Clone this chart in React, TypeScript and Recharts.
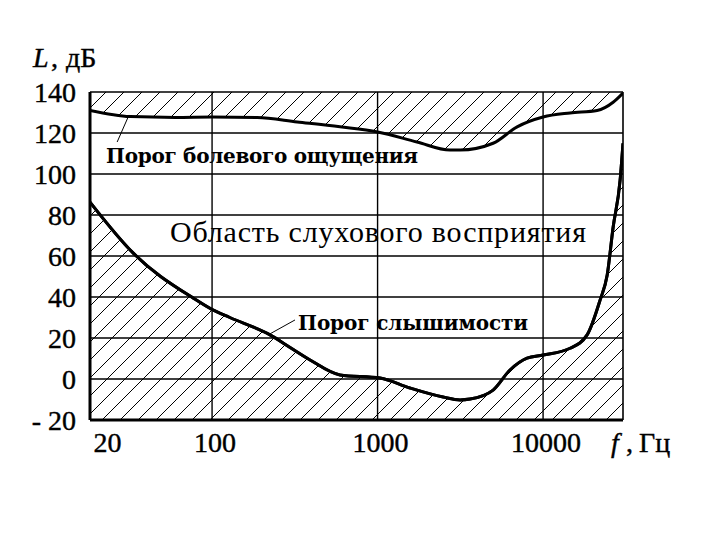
import React from 'react';
import { ComposedChart, Area, XAxis, YAxis, ReferenceLine, ReferenceDot } from 'recharts';

// Pain threshold (upper curve)
const painFreq = [18.3, 32, 60, 100, 187, 327, 593, 1000, 1730, 2740, 3150, 4990, 6970, 10000, 14560, 21200, 26500, 30400];
const painDb = [131, 128, 127.6, 127.8, 127.6, 125.4, 123, 120.5, 115.6, 111.7, 111.7, 115, 123, 127.8, 129.8, 131, 135, 139.5];

// Hearing threshold (lower curve)
const hearFreq = [18.3, 33.3, 76.8, 101, 128, 224, 296, 391, 593, 1035, 1570, 2490, 3150, 3620, 4990, 6310, 8000, 10000, 14560, 18450, 22100, 24400, 26500, 29200, 30400];
const hearDb = [86.3, 61.5, 39.5, 33.7, 30, 21.5, 15.4, 9.3, 2, 0.5, -4.4, -8.8, -10.2, -9.8, -5.4, 4.4, 10.2, 11.7, 15, 21.5, 38.5, 50.7, 74, 97, 115];

const xTicks = [20, 100, 1000, 10000];
const xGrid = [100, 1000, 10000];
const yTicks = [-20, 0, 20, 40, 60, 80, 100, 120, 140];
const xDomain: [number, number] = [18.3, 30400];
const yDomain: [number, number] = [-20, 140];

const painData = painFreq.map((f, i) => ({ f, db: painDb[i] }));
const hearData = hearFreq.map((f, i) => ({ f, db: hearDb[i] }));

const SERIF = '"Liberation Serif", "Times New Roman", serif';
const BOLD_SERIF = '"DejaVu Serif", serif';

const YTick = (props: any) => {
  const { x, y, payload } = props;
  const v = payload.value;
  const label = v < 0 ? '- ' + Math.abs(v) : String(v);
  return (
    <text x={x} y={y} textAnchor="end" dominantBaseline="central" fontFamily={SERIF} fontSize={28} fill="#000" stroke="#000" strokeWidth={0.4}>
      {label}
    </text>
  );
};

const XTick = (props: any) => {
  const { x, y, payload } = props;
  const v = payload.value;
  const dx = v === 20 ? 11 : 3;
  return (
    <text x={x + dx} y={y + 32} textAnchor="middle" fontFamily={SERIF} fontSize={28} fill="#000" stroke="#000" strokeWidth={0.4}>
      {String(v)}
    </text>
  );
};

const labelShape = (text: string, family: string, size: number, weight: string, len: number) => (p: any) => (
  <text
    x={p.cx}
    y={p.cy}
    fontFamily={family}
    fontSize={size}
    fontWeight={weight}
    fill="#000"
    textLength={len}
    lengthAdjust="spacing"
  >
    {text}
  </text>
);

export default function App() {
  return (
    <div style={{ position: 'absolute', left: 0, top: 0, width: 720, height: 540, background: '#fff' }}>
      <ComposedChart width={720} height={540} margin={{ top: 92, right: 97, bottom: 90, left: 30 }}>
        <defs>
          <pattern id="hatch" patternUnits="userSpaceOnUse" width={18} height={18}>
            <path d="M0,18 L18,0 M-4.5,4.5 L4.5,-4.5 M13.5,22.5 L22.5,13.5" stroke="#000" strokeWidth={1} />
          </pattern>
        </defs>
        <XAxis
          type="number"
          dataKey="f"
          scale="log"
          domain={xDomain}
          allowDataOverflow
          ticks={xTicks}
          tick={<XTick />}
          tickLine={false}
          tickSize={0}
          tickMargin={0}
          height={30}
          axisLine={{ stroke: '#000', strokeWidth: 3 }}
        />
        <YAxis
          type="number"
          domain={yDomain}
          ticks={yTicks}
          tick={<YTick />}
          tickLine={false}
          tickSize={0}
          tickMargin={14}
          width={60}
          axisLine={{ stroke: '#000', strokeWidth: 3 }}
        />
        <Area
          data={hearData}
          dataKey="db"
          type="monotone"
          baseValue={-20}
          stroke="#000"
          strokeWidth={3}
          fill="url(#hatch)"
          fillOpacity={1}
          isAnimationActive={false}
          dot={false}
          activeDot={false}
        />
        <Area
          data={painData}
          dataKey="db"
          type="monotone"
          baseValue={140}
          stroke="#000"
          strokeWidth={3}
          fill="url(#hatch)"
          fillOpacity={1}
          isAnimationActive={false}
          dot={false}
          activeDot={false}
        />
        {yTicks.filter((t) => t > -20).map((t) => (
          <ReferenceLine key={'h' + t} y={t} stroke="#000" strokeWidth={1.6} />
        ))}
        {xGrid.map((t) => (
          <ReferenceLine key={'v' + t} x={t} stroke="#000" strokeWidth={1.4} />
        ))}
        <ReferenceLine x={xDomain[1]} stroke="#000" strokeWidth={1.6} />
        <ReferenceLine segment={[{ x: 31.5, y: 128.8 }, { x: 26.7, y: 115.6 }]} stroke="#000" strokeWidth={1} />
        <ReferenceLine segment={[{ x: 317, y: 28.8 }, { x: 218, y: 21.5 }]} stroke="#000" strokeWidth={1} />
        <Area
          data={hearData}
          dataKey="db"
          type="monotone"
          baseValue={-20}
          stroke="#000"
          strokeWidth={3}
          fill="none"
          isAnimationActive={false}
          dot={false}
          activeDot={false}
        />
        <ReferenceDot x={22.9} y={105.4} r={0} ifOverflow="visible" shape={labelShape('Порог болевого ощущения', BOLD_SERIF, 20, 'bold', 312)} />
        <ReferenceDot x={55.7} y={66.8} r={0} ifOverflow="visible" shape={labelShape('Область слухового восприятия', SERIF, 30, 'normal', 416)} />
        <ReferenceDot x={331} y={23.9} r={0} ifOverflow="visible" shape={labelShape('Порог слышимости', BOLD_SERIF, 20, 'bold', 230)} />
        <text y={67} fontFamily={SERIF} fontSize={28} fill="#000" stroke="#000" strokeWidth={0.4}>
          <tspan x={33} fontStyle="italic">L</tspan>
          <tspan x={51}>,</tspan>
          <tspan x={66}>дБ</tspan>
        </text>
        <text y={452} fontFamily={SERIF} fontSize={28} fill="#000" stroke="#000" strokeWidth={0.4}>
          <tspan x={611} fontStyle="italic">f</tspan>
          <tspan x={626}>,</tspan>
          <tspan x={639}>Гц</tspan>
        </text>
      </ComposedChart>
    </div>
  );
}
